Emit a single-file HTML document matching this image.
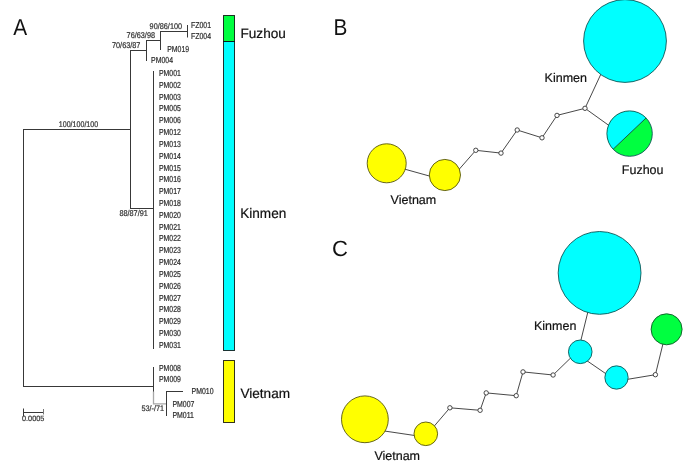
<!DOCTYPE html>
<html><head><meta charset="utf-8"><style>
html,body{margin:0;padding:0;background:#fff;}
svg{display:block;}
svg text{font-family:"Liberation Sans",Arial,sans-serif;text-rendering:geometricPrecision;}
</style></head><body>
<svg width="685" height="465" viewBox="0 0 685 465">
<rect width="685" height="465" fill="#fff"/>
<text transform="translate(13.3 34.8) scale(0.905 1)" font-size="23.0" fill="#111" >A</text>
<line x1="23.50" y1="129.50" x2="23.50" y2="386.50" stroke="#383838" stroke-linecap="square" stroke-width="1"/>
<line x1="23.50" y1="129.50" x2="130.50" y2="129.50" stroke="#383838" stroke-linecap="square" stroke-width="1"/>
<line x1="130.50" y1="50.50" x2="130.50" y2="208.50" stroke="#383838" stroke-linecap="square" stroke-width="1"/>
<line x1="130.50" y1="50.50" x2="146.50" y2="50.50" stroke="#383838" stroke-linecap="square" stroke-width="1"/>
<line x1="146.50" y1="40.50" x2="146.50" y2="60.50" stroke="#383838" stroke-linecap="square" stroke-width="1"/>
<line x1="146.50" y1="40.50" x2="160.50" y2="40.50" stroke="#383838" stroke-linecap="square" stroke-width="1"/>
<line x1="160.50" y1="31.50" x2="160.50" y2="49.50" stroke="#383838" stroke-linecap="square" stroke-width="1"/>
<line x1="160.50" y1="31.50" x2="187.50" y2="31.50" stroke="#383838" stroke-linecap="square" stroke-width="1"/>
<line x1="187.50" y1="25.50" x2="187.50" y2="37.00" stroke="#383838" stroke-linecap="square" stroke-width="1"/>
<line x1="130.50" y1="208.50" x2="153.50" y2="208.50" stroke="#383838" stroke-linecap="square" stroke-width="1"/>
<line x1="153.50" y1="71.50" x2="153.50" y2="348.50" stroke="#383838" stroke-linecap="square" stroke-width="1"/>
<line x1="23.50" y1="386.50" x2="153.50" y2="386.50" stroke="#383838" stroke-linecap="square" stroke-width="1"/>
<line x1="153.50" y1="367.50" x2="153.50" y2="392.00" stroke="#383838" stroke-linecap="square" stroke-width="1"/>
<line x1="166.50" y1="391.50" x2="166.50" y2="415.50" stroke="#383838" stroke-linecap="square" stroke-width="1"/>
<line x1="166.50" y1="391.50" x2="182.50" y2="391.50" stroke="#383838" stroke-linecap="square" stroke-width="1"/>
<line x1="23.50" y1="412.50" x2="43.50" y2="412.50" stroke="#383838" stroke-linecap="square" stroke-width="1"/>
<line x1="23.50" y1="409.00" x2="23.50" y2="415.50" stroke="#383838" stroke-linecap="square" stroke-width="1"/>
<path d="M153.5,391.5 V403.9 H166" fill="none" stroke="#a8a8a8" stroke-width="1.3"/>
<text transform="translate(191 28) scale(0.95 1.18)" font-size="7.3" fill="#333" stroke="#333" stroke-width="0.2">FZ001</text>
<text transform="translate(191 39.4) scale(0.95 1.18)" font-size="7.3" fill="#333" stroke="#333" stroke-width="0.2">FZ004</text>
<text transform="translate(167.2 51.6) scale(0.95 1.18)" font-size="7.3" fill="#333" stroke="#333" stroke-width="0.2">PM019</text>
<text transform="translate(151.1 63) scale(0.95 1.18)" font-size="7.3" fill="#333" stroke="#333" stroke-width="0.2">PM004</text>
<text transform="translate(158.9 76.0) scale(0.95 1.18)" font-size="7.3" fill="#333" stroke="#333" stroke-width="0.2">PM001</text>
<text transform="translate(158.9 87.82) scale(0.95 1.18)" font-size="7.3" fill="#333" stroke="#333" stroke-width="0.2">PM002</text>
<text transform="translate(158.9 99.63) scale(0.95 1.18)" font-size="7.3" fill="#333" stroke="#333" stroke-width="0.2">PM003</text>
<text transform="translate(158.9 111.45) scale(0.95 1.18)" font-size="7.3" fill="#333" stroke="#333" stroke-width="0.2">PM005</text>
<text transform="translate(158.9 123.27) scale(0.95 1.18)" font-size="7.3" fill="#333" stroke="#333" stroke-width="0.2">PM006</text>
<text transform="translate(158.9 135.09) scale(0.95 1.18)" font-size="7.3" fill="#333" stroke="#333" stroke-width="0.2">PM012</text>
<text transform="translate(158.9 146.9) scale(0.95 1.18)" font-size="7.3" fill="#333" stroke="#333" stroke-width="0.2">PM013</text>
<text transform="translate(158.9 158.72) scale(0.95 1.18)" font-size="7.3" fill="#333" stroke="#333" stroke-width="0.2">PM014</text>
<text transform="translate(158.9 170.54) scale(0.95 1.18)" font-size="7.3" fill="#333" stroke="#333" stroke-width="0.2">PM015</text>
<text transform="translate(158.9 182.36) scale(0.95 1.18)" font-size="7.3" fill="#333" stroke="#333" stroke-width="0.2">PM016</text>
<text transform="translate(158.9 194.17) scale(0.95 1.18)" font-size="7.3" fill="#333" stroke="#333" stroke-width="0.2">PM017</text>
<text transform="translate(158.9 205.99) scale(0.95 1.18)" font-size="7.3" fill="#333" stroke="#333" stroke-width="0.2">PM018</text>
<text transform="translate(158.9 217.81) scale(0.95 1.18)" font-size="7.3" fill="#333" stroke="#333" stroke-width="0.2">PM020</text>
<text transform="translate(158.9 229.63) scale(0.95 1.18)" font-size="7.3" fill="#333" stroke="#333" stroke-width="0.2">PM021</text>
<text transform="translate(158.9 241.44) scale(0.95 1.18)" font-size="7.3" fill="#333" stroke="#333" stroke-width="0.2">PM022</text>
<text transform="translate(158.9 253.26) scale(0.95 1.18)" font-size="7.3" fill="#333" stroke="#333" stroke-width="0.2">PM023</text>
<text transform="translate(158.9 265.08) scale(0.95 1.18)" font-size="7.3" fill="#333" stroke="#333" stroke-width="0.2">PM024</text>
<text transform="translate(158.9 276.9) scale(0.95 1.18)" font-size="7.3" fill="#333" stroke="#333" stroke-width="0.2">PM025</text>
<text transform="translate(158.9 288.71) scale(0.95 1.18)" font-size="7.3" fill="#333" stroke="#333" stroke-width="0.2">PM026</text>
<text transform="translate(158.9 300.53) scale(0.95 1.18)" font-size="7.3" fill="#333" stroke="#333" stroke-width="0.2">PM027</text>
<text transform="translate(158.9 312.35) scale(0.95 1.18)" font-size="7.3" fill="#333" stroke="#333" stroke-width="0.2">PM028</text>
<text transform="translate(158.9 324.17) scale(0.95 1.18)" font-size="7.3" fill="#333" stroke="#333" stroke-width="0.2">PM029</text>
<text transform="translate(158.9 335.98) scale(0.95 1.18)" font-size="7.3" fill="#333" stroke="#333" stroke-width="0.2">PM030</text>
<text transform="translate(158.9 347.8) scale(0.95 1.18)" font-size="7.3" fill="#333" stroke="#333" stroke-width="0.2">PM031</text>
<text transform="translate(159 370.6) scale(0.95 1.18)" font-size="7.3" fill="#333" stroke="#333" stroke-width="0.2">PM008</text>
<text transform="translate(159 382.4) scale(0.95 1.18)" font-size="7.3" fill="#333" stroke="#333" stroke-width="0.2">PM009</text>
<text transform="translate(191.6 393.6) scale(0.95 1.18)" font-size="7.3" fill="#333" stroke="#333" stroke-width="0.2">PM010</text>
<text transform="translate(172.4 406.6) scale(0.95 1.18)" font-size="7.3" fill="#333" stroke="#333" stroke-width="0.2">PM007</text>
<text transform="translate(172.4 417.6) scale(0.95 1.18)" font-size="7.3" fill="#333" stroke="#333" stroke-width="0.2">PM011</text>
<text transform="translate(149.6 29.0) scale(1.0 1.14)" font-size="7.3" fill="#333" stroke="#333" stroke-width="0.2">90/86/100</text>
<text transform="translate(126.6 38.0) scale(1.0 1.14)" font-size="7.3" fill="#333" stroke="#333" stroke-width="0.2">76/63/98</text>
<text transform="translate(112 48.2) scale(1.0 1.14)" font-size="7.3" fill="#333" stroke="#333" stroke-width="0.2">70/63/87</text>
<text transform="translate(58.8 126.7) scale(0.97 1.14)" font-size="7.3" fill="#333" stroke="#333" stroke-width="0.2">100/100/100</text>
<text transform="translate(119.4 216.1) scale(1.0 1.14)" font-size="7.3" fill="#333" stroke="#333" stroke-width="0.2">88/87/91</text>
<text transform="translate(141.4 411.3) scale(1.0 1.1)" font-size="7.3" fill="#333" stroke="#333" stroke-width="0.2">53/-/71</text>
<text transform="translate(22 420.6) scale(1.0 1.05)" font-size="7.3" fill="#333" stroke="#333" stroke-width="0.2">0.0005</text>
<line x1="43.50" y1="409.00" x2="43.50" y2="414.50" stroke="#777" stroke-width="1"/>
<rect x="223.5" y="15.5" width="11" height="26" fill="#00ff40" stroke="#000" stroke-opacity="0.8" stroke-width="1"/>
<rect x="223.5" y="41.5" width="11" height="309" fill="#00ffff" stroke="#000" stroke-opacity="0.8" stroke-width="1"/>
<rect x="223.5" y="360.5" width="11" height="62" fill="#ffff00" stroke="#000" stroke-opacity="0.8" stroke-width="1"/>
<text x="240.5" y="37.8" font-size="13.6" fill="#111" stroke="#111" stroke-width="0.2">Fuzhou</text>
<text transform="translate(240.2 218) scale(1.0 1.02)" font-size="13.6" fill="#111" stroke="#111" stroke-width="0.2">Kinmen</text>
<text x="240.4" y="398" font-size="13.6" fill="#111" stroke="#111" stroke-width="0.2">Vietnam</text>
<text transform="translate(333.4 34.8) scale(0.905 1)" font-size="23.0" fill="#111" >B</text>
<line x1="585.00" y1="108.30" x2="602.83" y2="69.96" stroke="#333" stroke-width="0.9"/>
<line x1="585.00" y1="108.30" x2="612.18" y2="127.80" stroke="#333" stroke-width="0.9"/>
<line x1="585.00" y1="108.30" x2="557.00" y2="115.40" stroke="#333" stroke-width="0.9"/>
<line x1="557.00" y1="115.40" x2="542.00" y2="137.80" stroke="#333" stroke-width="0.9"/>
<line x1="542.00" y1="137.80" x2="517.20" y2="130.00" stroke="#333" stroke-width="0.9"/>
<line x1="517.20" y1="130.00" x2="501.00" y2="153.10" stroke="#333" stroke-width="0.9"/>
<line x1="501.00" y1="153.10" x2="475.80" y2="150.30" stroke="#333" stroke-width="0.9"/>
<line x1="475.80" y1="150.30" x2="456.31" y2="172.56" stroke="#333" stroke-width="0.9"/>
<line x1="401.18" y1="168.16" x2="434.12" y2="177.34" stroke="#333" stroke-width="0.9"/>
<circle cx="625" cy="41" r="41.4" fill="#00ffff" stroke="#0d5656" stroke-width="0.9"/>
<circle cx="629.6" cy="133.6" r="22.7" fill="#00ff40"/>
<path d="M646.07,117.97 A22.7,22.7 0 0 0 613.13,149.23 Z" fill="#00ffff"/>
<line x1="646.07" y1="117.97" x2="613.13" y2="149.23" stroke="#1a4a3a" stroke-width="0.9"/>
<circle cx="629.6" cy="133.6" r="22.7" fill="none" stroke="#0d5656" stroke-width="0.9"/>
<circle cx="386.7" cy="163.3" r="19.5" fill="#ffff00" stroke="#56560d" stroke-width="0.9"/>
<circle cx="444.9" cy="175.0" r="15.6" fill="#ffff00" stroke="#56560d" stroke-width="0.9"/>
<circle cx="585" cy="108.3" r="2.2" fill="#fff" stroke="#333" stroke-width="0.9"/>
<circle cx="557" cy="115.4" r="2.2" fill="#fff" stroke="#333" stroke-width="0.9"/>
<circle cx="542" cy="137.8" r="2.2" fill="#fff" stroke="#333" stroke-width="0.9"/>
<circle cx="517.2" cy="130" r="2.2" fill="#fff" stroke="#333" stroke-width="0.9"/>
<circle cx="501" cy="153.1" r="2.2" fill="#fff" stroke="#333" stroke-width="0.9"/>
<circle cx="475.8" cy="150.3" r="2.2" fill="#fff" stroke="#333" stroke-width="0.9"/>
<text x="544.6" y="82.3" font-size="12.5" fill="#111" stroke="#111" stroke-width="0.2">Kinmen</text>
<text x="621.8" y="174.3" font-size="12.5" fill="#111" stroke="#111" stroke-width="0.2">Fuzhou</text>
<text x="390.6" y="204" font-size="12.5" fill="#111" stroke="#111" stroke-width="0.2">Vietnam</text>
<text x="332" y="256.1" font-size="22" fill="#111" >C</text>
<line x1="579.85" y1="344.55" x2="589.03" y2="307.27" stroke="#333" stroke-width="0.9"/>
<line x1="584.08" y1="358.77" x2="609.22" y2="376.03" stroke="#333" stroke-width="0.9"/>
<line x1="655.40" y1="374.70" x2="623.37" y2="380.02" stroke="#333" stroke-width="0.9"/>
<line x1="655.40" y1="374.70" x2="663.99" y2="339.64" stroke="#333" stroke-width="0.9"/>
<line x1="553.10" y1="375.00" x2="573.39" y2="355.32" stroke="#333" stroke-width="0.9"/>
<line x1="553.10" y1="375.00" x2="523.00" y2="371.90" stroke="#333" stroke-width="0.9"/>
<line x1="523.00" y1="371.90" x2="516.20" y2="395.70" stroke="#333" stroke-width="0.9"/>
<line x1="516.20" y1="395.70" x2="486.20" y2="392.90" stroke="#333" stroke-width="0.9"/>
<line x1="486.20" y1="392.90" x2="480.10" y2="410.30" stroke="#333" stroke-width="0.9"/>
<line x1="480.10" y1="410.30" x2="449.90" y2="407.80" stroke="#333" stroke-width="0.9"/>
<line x1="449.90" y1="407.80" x2="431.75" y2="429.00" stroke="#333" stroke-width="0.9"/>
<line x1="382.05" y1="430.67" x2="418.95" y2="436.13" stroke="#333" stroke-width="0.9"/>
<circle cx="599.6" cy="272.9" r="41.4" fill="#00ffff" stroke="#0d5656" stroke-width="0.9"/>
<circle cx="580.25" cy="351.8" r="11.8" fill="#00ffff" stroke="#0d5656" stroke-width="0.9"/>
<circle cx="616.5" cy="377.5" r="11.65" fill="#00ffff" stroke="#0d5656" stroke-width="0.9"/>
<circle cx="666.6" cy="329.3" r="15.5" fill="#00ff40" stroke="#0d5626" stroke-width="0.9"/>
<circle cx="364.9" cy="419.3" r="23.4" fill="#ffff00" stroke="#56560d" stroke-width="0.9"/>
<circle cx="425.8" cy="433.8" r="11.8" fill="#ffff00" stroke="#56560d" stroke-width="0.9"/>
<circle cx="553.1" cy="375" r="2.2" fill="#fff" stroke="#333" stroke-width="0.9"/>
<circle cx="523" cy="371.9" r="2.2" fill="#fff" stroke="#333" stroke-width="0.9"/>
<circle cx="516.2" cy="395.7" r="2.2" fill="#fff" stroke="#333" stroke-width="0.9"/>
<circle cx="486.2" cy="392.9" r="2.2" fill="#fff" stroke="#333" stroke-width="0.9"/>
<circle cx="480.1" cy="410.3" r="2.2" fill="#fff" stroke="#333" stroke-width="0.9"/>
<circle cx="449.9" cy="407.8" r="2.2" fill="#fff" stroke="#333" stroke-width="0.9"/>
<circle cx="655.4" cy="374.7" r="2.2" fill="#fff" stroke="#333" stroke-width="0.9"/>
<text x="534.0" y="329.6" font-size="12.5" fill="#111" stroke="#111" stroke-width="0.2">Kinmen</text>
<text x="374.4" y="460" font-size="12.5" fill="#111" stroke="#111" stroke-width="0.2">Vietnam</text>
</svg>
</body></html>
